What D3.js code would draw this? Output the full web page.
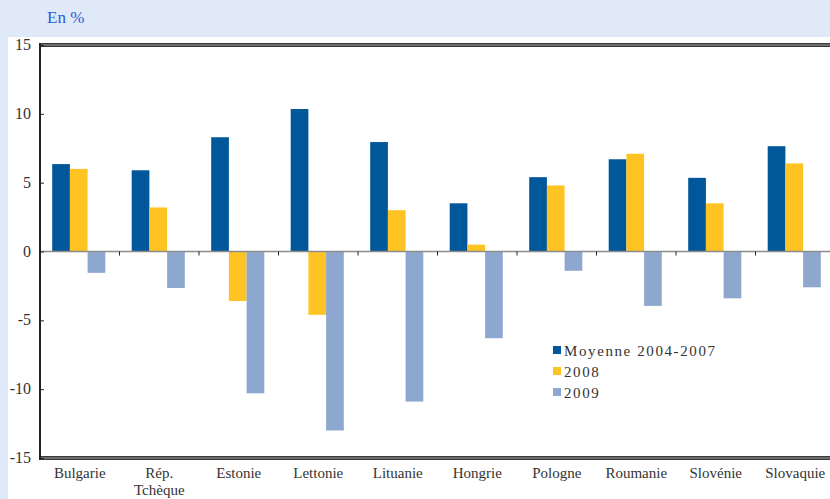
<!DOCTYPE html>
<html><head><meta charset="utf-8">
<script src="https://cdn.jsdelivr.net/npm/d3@7"></script>
<style>
body{margin:0;background:#dfe9f7;}
svg{display:block;}
svg text{font-family:"Liberation Serif","Times New Roman",serif;}
</style></head>
<body>
<svg id="chart" width="830" height="499"></svg>
<script>
// Croissance du PIB par pays, en %
const categories = ["Bulgarie", "Rép.\nTchèque", "Estonie", "Lettonie", "Lituanie", "Hongrie", "Pologne", "Roumanie", "Slovénie", "Slovaquie"];
const seriesNames = ["Moyenne 2004-2007", "2008", "2009"];
const moyenne = [6.35, 5.9, 8.3, 10.35, 7.95, 3.5, 5.4, 6.7, 5.35, 7.65];
const an2008 = [6.0, 3.2, -3.6, -4.6, 3.0, 0.5, 4.8, 7.1, 3.5, 6.4];
const an2009 = [-1.55, -2.65, -10.3, -13.0, -10.9, -6.3, -1.4, -3.95, -3.4, -2.6];
const yTicks = [15, 10, 5, 0, -5, -10, -15];
const colors = ["#00579a", "#ffc423", "#8ea7cf"];

(function draw() {
  const series = [moyenne, an2008, an2009];
  const svg = d3.select("#chart");

  // panneau blanc
  svg.append("rect").attr("x", 8).attr("y", 37).attr("width", 822).attr("height", 462).attr("fill", "#ffffff");

  svg.append("text").attr("x", 47).attr("y", 23).attr("fill", "#2a5bd7")
    .attr("font-size", 17).text("En %");

  const pl = 40, pr = 835, pt = 45, pb = 458;
  const y = d3.scaleLinear().domain([-15, 15]).range([pb, pt]);
  const x = d3.scaleBand().domain(categories).range([pl, pr]);
  const barW = 17.7;
  const xs = d3.scaleBand().domain(seriesNames).range([0, barW * 3]);
  const offset = (x.bandwidth() - barW * 3) / 2 - 1;

  // barres
  series.forEach((vals, si) => {
    svg.append("g").selectAll("rect").data(vals).join("rect")
      .attr("x", (d, i) => x(categories[i]) + offset + xs(seriesNames[si]))
      .attr("width", xs.bandwidth())
      .attr("y", d => y(Math.max(0, d)))
      .attr("height", d => Math.abs(y(d) - y(0)))
      .attr("fill", colors[si]);
  });

  // ligne du zéro
  svg.append("line").attr("x1", pl).attr("x2", 830).attr("y1", y(0)).attr("y2", y(0))
    .attr("stroke", "#8c8c8c").attr("stroke-width", 1.5);
  // graduations entre catégories
  svg.append("g").selectAll("line").data(categories.slice(1)).join("line")
    .attr("x1", d => x(d)).attr("x2", d => x(d))
    .attr("y1", y(0)).attr("y2", y(0) + 4)
    .attr("stroke", "#222").attr("stroke-width", 1);

  // cadres haut et bas (double trait)
  [pt, pb].forEach(yy => {
    svg.append("rect").attr("x", pl).attr("y", yy - 2).attr("width", 830 - pl).attr("height", 4).attr("fill", "#3a3a3a");
    svg.append("line").attr("x1", pl).attr("x2", 830).attr("y1", yy).attr("y2", yy)
      .attr("stroke", "#a0a0a0").attr("stroke-width", 1);
  });

  // axe vertical
  const yAxis = d3.axisRight(y).tickValues(yTicks).tickSize(4).tickFormat("");
  const gy = svg.append("g").attr("transform", `translate(${pl},0)`).call(yAxis);
  gy.select(".domain").remove();
  gy.selectAll(".tick line").attr("stroke", "#222");
  svg.append("line").attr("x1", pl).attr("x2", pl).attr("y1", pt - 2).attr("y2", pb + 2)
    .attr("stroke", "#222").attr("stroke-width", 2);
  svg.append("g").selectAll("text").data(yTicks).join("text")
    .attr("x", 31).attr("y", d => y(d) + 5).attr("text-anchor", "end")
    .attr("font-size", 16).attr("fill", "#333")
    .text(d => d);

  // libellés des pays
  const lbl = svg.append("g").selectAll("text").data(categories).join("text")
    .attr("x", d => x(d) + x.bandwidth() / 2).attr("y", 478)
    .attr("text-anchor", "middle").attr("font-size", 15).attr("fill", "#333");
  lbl.each(function(d) {
    const parts = d.split("\n");
    const t = d3.select(this);
    parts.forEach((p, k) => t.append("tspan").attr("x", x(d) + x.bandwidth() / 2).attr("dy", k ? 17 : 0).text(p));
  });

  // légende
  const leg = svg.append("g").attr("transform", "translate(553,346)");
  seriesNames.forEach((n, i) => {
    leg.append("rect").attr("x", 0).attr("y", i * 21).attr("width", 8).attr("height", 8).attr("fill", colors[i]);
    leg.append("text").attr("x", 11).attr("y", i * 21 + 10)
      .attr("font-size", 15).attr("letter-spacing", 1.6).attr("fill", "#333").text(n);
  });
})();
</script>
</body></html>
